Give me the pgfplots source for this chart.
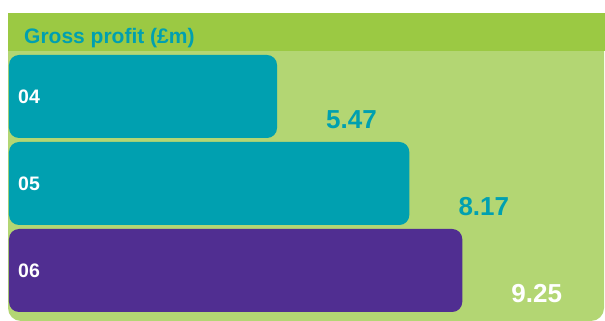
\documentclass[border=0pt]{standalone}
\usepackage{pgfplots}
\pgfplotsset{compat=1.18}
\usepackage{fontspec}
\setmainfont{Liberation Sans}
\definecolor{teal}{RGB}{0,160,176}
\definecolor{purp}{RGB}{80,46,145}
\definecolor{lgreen}{RGB}{179,214,115}
\definecolor{dgreen}{RGB}{155,201,67}
\begin{document}
\begin{tikzpicture}[x=1pt,y=1pt]
\fill[white] (0,0) rectangle (605,321);
\fill[lgreen] (8,290) [rounded corners=13pt]-- (8,0) -- (604,0) [sharp corners]-- (604,290) -- cycle;
\fill[dgreen] (8,270) rectangle (605,308);
\node[anchor=base west, inner sep=0pt, text=teal, font=\fontsize{21}{25}\selectfont\bfseries] at (24,277) {Gross profit (£m)};
\begin{axis}[
  at={(0,0)}, anchor=south west,
  scale only axis, width=605pt, height=321pt,
  hide axis,
  xmin=-0.18367, xmax=12.16327,
  y dir=reverse, ymin=-1.1092, ymax=2.5805,
  xbar, bar width=83pt, bar shift=0pt,
  /pgf/number format/assume math mode=true,
  /pgf/number format/.cd, fixed, precision=2, fixed zerofill, /pgfplots/.cd,
  nodes near coords,
  every node near coord/.append style={anchor=west, xshift=49pt, yshift=-23.5pt, inner sep=0pt, font=\fontsize{26}{30}\selectfont\bfseries},
  clip=false,
]
\addplot[fill=teal, draw=none, rounded corners=10pt, nodes near coords style={text=teal}] coordinates {(5.47,0)};
\addplot[fill=teal, draw=none, rounded corners=10pt, nodes near coords style={text=teal}] coordinates {(8.17,1)};
\addplot[fill=purp, draw=none, rounded corners=10pt, nodes near coords style={text=white}] coordinates {(9.25,2)};
\foreach \yy/\lab in {0/04,1/05,2/06}{
  \edef\tmp{\noexpand\node[anchor=west, inner sep=0pt, text=white, font=\noexpand\fontsize{19.5}{23}\noexpand\selectfont\noexpand\bfseries] at (axis cs:0.1837,\yy) {\lab};}
  \tmp
}
\end{axis}
\end{tikzpicture}
\end{document}
